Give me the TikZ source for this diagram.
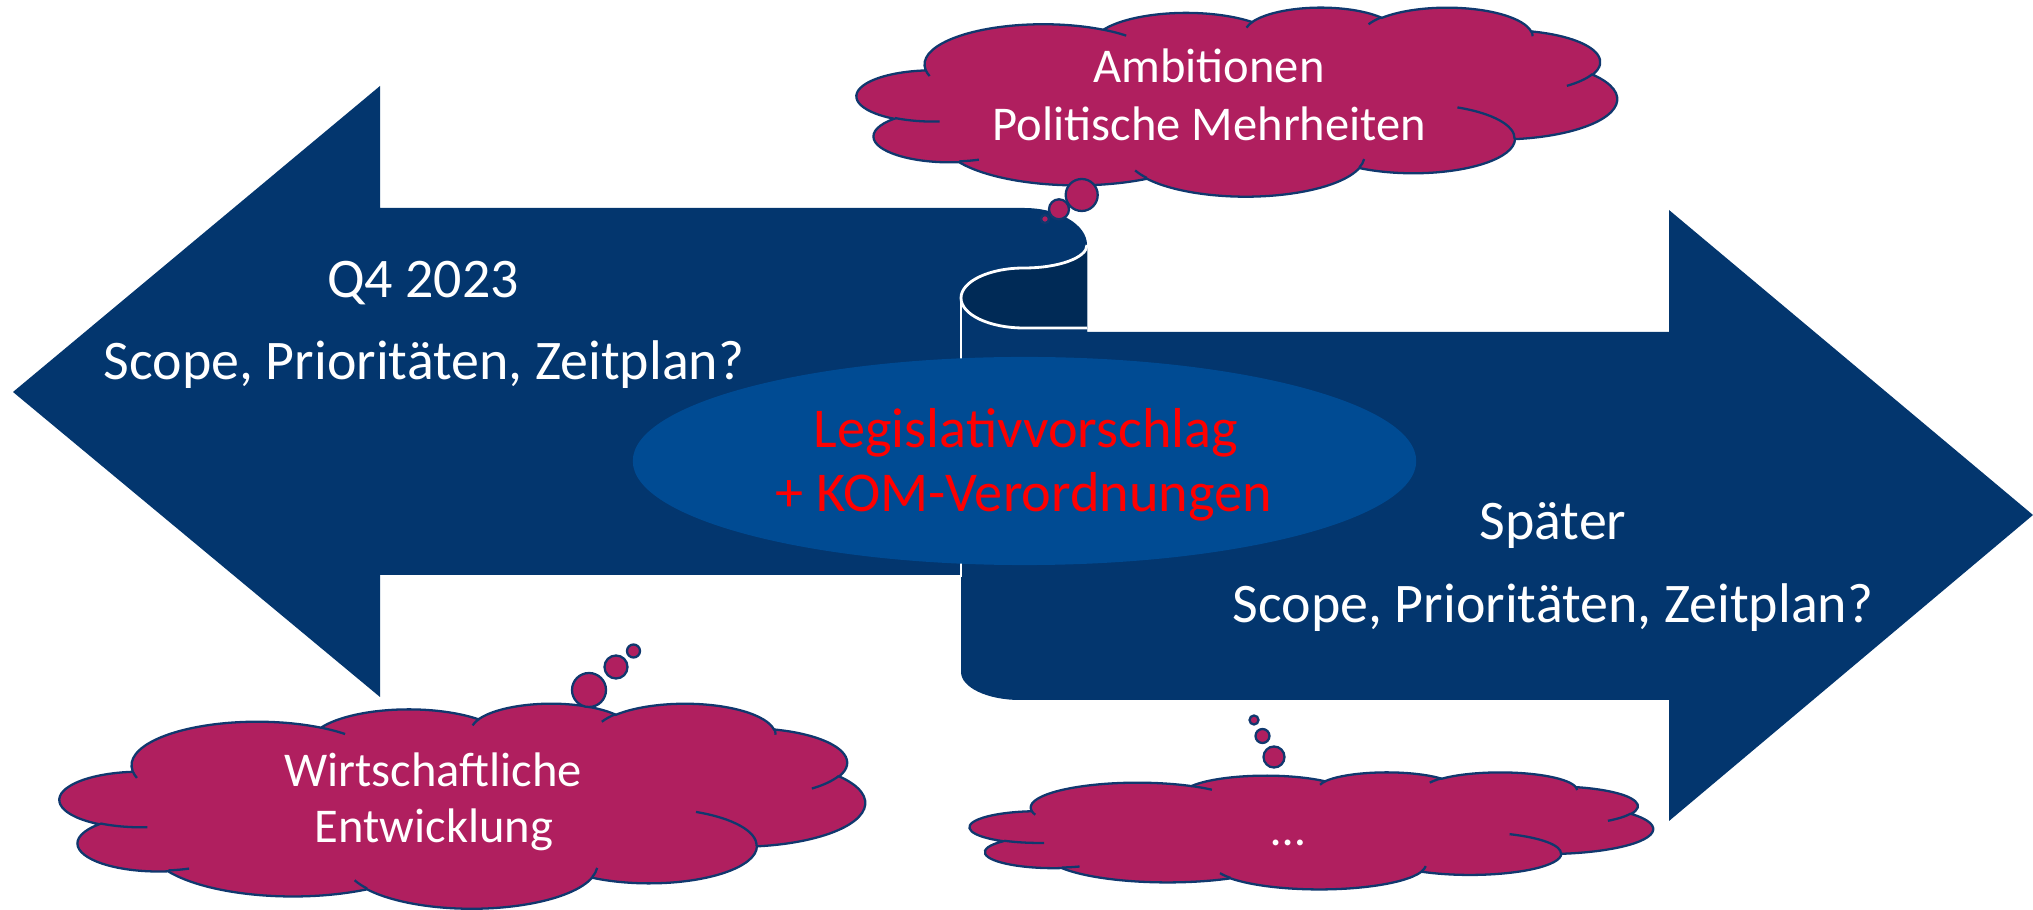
\documentclass[tikz,border=0pt]{standalone}
\usepackage{fontspec}
\setmainfont{Carlito}
\usepackage{tikz}
\usetikzlibrary{shapes.geometric}
\definecolor{arrowblue}{RGB}{3,54,110}
\definecolor{curlblue}{RGB}{0,42,86}
\definecolor{ovalblue}{RGB}{0,75,147}
\definecolor{cloudpink}{RGB}{176,31,95}
\definecolor{cloudrim}{RGB}{16,56,110}
\tikzset{
    arrowpart/.style={fill=arrowblue},
    curlline/.style={draw=white, line width=0.8pt},
    proposal/.style={ellipse, fill=ovalblue, inner sep=0pt, minimum width=7.83cm, minimum height=2.08cm},
    arrowtext/.style={text=white, inner sep=0pt, anchor=base, font=\fontsize{15.9}{18}\selectfont},
    proposaltext/.style={text=red, inner sep=0pt, anchor=base, font=\fontsize{16}{18}\selectfont},
    cloudtext/.style={text=white, inner sep=0pt, anchor=base, font=\fontsize{13.8}{16}\selectfont},
    cloudbody/.style={fill=cloudpink, draw=cloudrim, line width=0.65pt},
    cloudcrease/.style={draw=cloudrim, line width=0.65pt},
    bubble/.style={fill=cloudpink, draw=cloudrim, line width=0.65pt}
}
% cloud in a 432x432 box: name, left, top, width, height
\newcommand{\pptcloud}[5]{%
\begin{scope}[shift={(#2,#3)}, xscale=#4/432, yscale=#5/432]
\draw[cloudbody] (39.00,143.70)
    arc[start angle=-187.745, end angle=-59.64, x radius=67.53, y radius=91.90]
    arc[start angle=-152.025, end angle=-45.432, x radius=53.33, y radius=72.67]
    arc[start angle=-153.485, end angle=-37.326, x radius=43.65, y radius=59.45]
    arc[start angle=-139.684, end angle=-10.211, x radius=48.57, y radius=65.95]
    arc[start angle=-74.767, end angle=23.210, x radius=53.33, y radius=72.73]
    arc[start angle=-37.522, end angle=81.863, x radius=67.75, y radius=92.20]
    arc[start angle=0.460, end angle=121.98, x radius=57.85, y radius=78.67]
    arc[start angle=16.845, end angle=146.248, x radius=67.52, y radius=92.15]
    arc[start angle=58.987, end angle=150.20, x radius=77.20, y radius=105.43]
    arc[start angle=-276.694, end angle=-136.886, x radius=43.60, y radius=59.18]
    arc[start angle=-239.65, end angle=-95.888, x radius=43.45, y radius=59.45] -- cycle;
\draw[cloudcrease]
    (46.93,261.77) arc[start angle=85.547, end angle=120.35, x radius=43.45, y radius=59.45]
    (69.28,348.99) arc[start angle=68.236, end angle=83.306, x radius=43.60, y radius=59.18]
    (164.78,390.90) arc[start angle=146.248, end angle=158.473, x radius=67.52, y radius=92.15]
    (288.27,347.51) arc[start angle=4.735, end angle=16.845, x radius=67.52, y radius=92.15]
    (341.29,229.54) arc[start angle=-64.024, end angle=0.460, x radius=57.85, y radius=78.67]
    (417.98,153.54) arc[start angle=23.21, end angle=49.634, x radius=53.33, y radius=72.73]
    (383.24,54.26) arc[start angle=-10.211, end angle=0.821, x radius=48.57, y radius=65.95]
    (290.78,39.52) arc[start angle=-156.283, end angle=-139.684, x radius=48.57, y radius=65.95]
    (221.41,47.20) arc[start angle=-167.726, end angle=-153.485, x radius=43.65, y radius=59.45]
    (140.00,51.92) arc[start angle=-59.64, end angle=-45.714, x radius=67.53, y radius=91.90]
    (41.27,157.89) arc[start angle=163.194, end angle=172.255, x radius=67.53, y radius=91.90];
\coordinate (#1) at (216,216);
\end{scope}}
\begin{document}
\begin{tikzpicture}[x=0.01cm, y=-0.01cm]
\useasboundingbox (0,0) rectangle (2033,910);
% arrow pointing left
\coordinate (ltip) at (13,392);
\fill[arrowpart] (ltip) -- (380,86) -- (380,208) -- (1024,208)
    arc[start angle=-90, end angle=0, x radius=63, y radius=37]
    -- (1087,575) -- (380,575) -- (380,697) -- cycle;
% arrow pointing right, rolled up at its tail
\coordinate (rtip) at (2033,515);
\coordinate (curl) at (961,298);
\fill[arrowpart] (curl) -- (961,672)
    arc[start angle=180, end angle=90, x radius=59, y radius=28]
    -- (1669,700) -- (1669,821) -- (rtip) -- (1669,210) -- (1669,332) -- (1087,332) -- (1087,245)
    arc[start angle=0, end angle=90, x radius=63, y radius=23]
    arc[start angle=-90, end angle=-180, x radius=63, y radius=30] -- cycle;
\fill[curlblue] (1087,245) arc[start angle=0, end angle=90, x radius=63, y radius=23]
    arc[start angle=-90, end angle=-270, x radius=63, y radius=30] -- (1087,328) -- cycle;
\draw[curlline] (1087,245) arc[start angle=0, end angle=90, x radius=63, y radius=23]
    arc[start angle=-90, end angle=-270, x radius=63, y radius=30] -- (1087,328);
\draw[curlline] (curl) -- (961,577);
% centre
\node[proposal] (proposal) at (1024.5,461) {};
\node[proposaltext] (legis) at (1026,448) {Legislativvorschlag};
\node[proposaltext] (kom) at (1024,512) {+ KOM-Verordnungen};
\node[arrowtext] (q4) at (423,298) {Q4 2023};
\node[arrowtext] (scopeleft) at (424,380) {Scope, Prioritäten, Zeitplan?};
\node[arrowtext] (later) at (1553,540) {Später};
\node[arrowtext] (scoperight) at (1553,623) {Scope, Prioritäten, Zeitplan?};
% thought clouds
\pptcloud{ambition}{857}{7}{760}{189}
\pptcloud{economy}{60}{703}{805}{205}
\pptcloud{unknown}{970}{772}{683}{117}
\foreach \x/\y/\r in {1081.7/195/16, 1059/209.3/10, 1045/219/4,
    589/690/17, 616/667/11.5, 633.5/651/6.5,
    1274/757/10.5, 1262.5/736/7, 1254/720/4.5}{
    \draw[bubble] (\x,\y) circle[radius=\r];
}
\node[cloudtext] (ambitxt) at (1209,83) {Ambitionen};
\node[cloudtext] (polittxt) at (1209.5,141) {Politische Mehrheiten};
\node[cloudtext] (wirttxt) at (433,787) {Wirtschaftliche};
\node[cloudtext] (entwtxt) at (434,843) {Entwicklung};
\node[cloudtext] (dotstxt) at (1288,845) {…};
\end{tikzpicture}
\end{document}
